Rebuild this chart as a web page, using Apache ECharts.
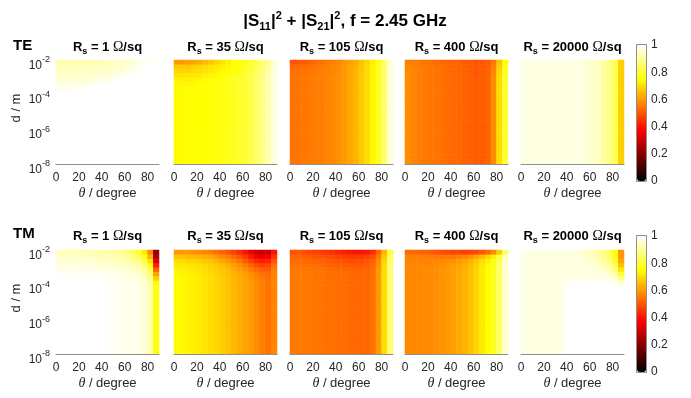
<!DOCTYPE html>
<html>
<head>
<meta charset="utf-8">
<script src="https://cdn.jsdelivr.net/npm/echarts@6/dist/echarts.min.js"></script>
<style>html,body{margin:0;padding:0;background:#fff;}#c{width:691px;height:398px;}</style>
</head>
<body>
<div id="c"></div>
<script>
// ---- data ----
// theta cell centres (deg), 5 degree cells covering 0..90
const theta = [2.5,7.5,12.5,17.5,22.5,27.5,32.5,37.5,42.5,47.5,52.5,57.5,62.5,67.5,72.5,77.5,82.5,87.5];
// log10(d / m) cell centres, 0.25 decade cells covering -8..-2
const logD = [-7.875,-7.625,-7.375,-7.125,-6.875,-6.625,-6.375,-6.125,-5.875,-5.625,-5.375,-5.125,-4.875,-4.625,-4.375,-4.125,-3.875,-3.625,-3.375,-3.125,-2.875,-2.625,-2.375,-2.125];
const rsLabels = ['1','35','105','400','20000'];
const xTicks = [0,20,40,60,80];
const yTicks = [-8,-6,-4,-2];
const cbTicks = [0,0.2,0.4,0.6,0.8,1];

// each panel: "top" rows read from d = 10^-2.125 downward in 0.25 decade steps, "base" = rows below
const TE_1_top = [
 [0.92,0.92,0.92,0.92,0.92,0.93,0.93,0.93,0.93,0.94,0.94,0.95,0.95,0.96,0.97,0.98,0.99,1.0],
 [0.93,0.93,0.93,0.93,0.93,0.93,0.93,0.94,0.94,0.94,0.95,0.95,0.96,0.97,0.98,0.99,1.0,1.0],
 [0.94,0.94,0.94,0.94,0.94,0.94,0.94,0.95,0.95,0.95,0.96,0.96,0.97,0.98,0.99,1.0,1.0,1.0],
 [0.95,0.95,0.95,0.95,0.95,0.95,0.95,0.96,0.96,0.96,0.97,0.98,0.99,1.0,1.0,1.0,1.0,1.0],
 [0.96,0.96,0.96,0.96,0.96,0.96,0.97,0.97,0.97,0.98,0.99,1.0,1.0,1.0,1.0,1.0,1.0,1.0],
 [0.97,0.97,0.97,0.97,0.97,0.98,0.98,0.99,0.99,1.0,1.0,1.0,1.0,1.0,1.0,1.0,1.0,1.0],
 [0.985,0.985,0.985,0.99,0.99,1.0,1.0,1.0,1.0,1.0,1.0,1.0,1.0,1.0,1.0,1.0,1.0,1.0]
];
const TE_1_base = [1,1,1,1,1,1,1,1,1,1,1,1,1,1,1,1,1,1];

const TE_35_top = [
 [0.60,0.60,0.61,0.62,0.63,0.65,0.67,0.69,0.71,0.73,0.75,0.76,0.78,0.80,0.83,0.86,0.90,0.96],
 [0.67,0.67,0.67,0.68,0.69,0.70,0.71,0.72,0.73,0.74,0.75,0.76,0.78,0.80,0.83,0.86,0.90,0.96],
 [0.69,0.69,0.69,0.70,0.70,0.71,0.72,0.73,0.74,0.75,0.76,0.77,0.79,0.81,0.84,0.87,0.91,0.97],
 [0.71,0.71,0.71,0.72,0.72,0.73,0.74,0.745,0.75,0.76,0.77,0.78,0.80,0.82,0.85,0.88,0.92,0.97],
 [0.73,0.73,0.73,0.73,0.74,0.74,0.75,0.755,0.76,0.77,0.78,0.79,0.80,0.82,0.85,0.88,0.92,0.97],
 [0.74,0.74,0.74,0.74,0.745,0.75,0.755,0.76,0.765,0.77,0.78,0.79,0.80,0.82,0.85,0.88,0.92,0.97]
];
const TE_35_base = [0.745,0.745,0.75,0.75,0.75,0.75,0.755,0.76,0.765,0.77,0.78,0.79,0.80,0.82,0.85,0.88,0.92,0.97];

const TE_105_top = [
 [0.50,0.50,0.51,0.52,0.53,0.54,0.55,0.56,0.57,0.59,0.61,0.63,0.66,0.69,0.73,0.77,0.85,0.95],
 [0.53,0.53,0.535,0.54,0.55,0.555,0.56,0.57,0.58,0.595,0.615,0.635,0.665,0.70,0.74,0.78,0.86,0.96],
 [0.54,0.54,0.545,0.55,0.555,0.56,0.565,0.57,0.58,0.60,0.62,0.64,0.67,0.70,0.74,0.78,0.86,0.96]
];
const TE_105_base = [0.545,0.545,0.55,0.555,0.56,0.56,0.57,0.575,0.585,0.60,0.62,0.64,0.67,0.70,0.74,0.78,0.86,0.96];

const TE_400_top = [
 [0.56,0.555,0.55,0.545,0.54,0.535,0.53,0.525,0.52,0.515,0.51,0.505,0.50,0.50,0.51,0.55,0.66,0.75],
 [0.57,0.565,0.555,0.55,0.545,0.54,0.535,0.53,0.525,0.52,0.515,0.51,0.50,0.505,0.515,0.56,0.68,0.78],
 [0.575,0.57,0.56,0.555,0.55,0.545,0.54,0.535,0.53,0.525,0.52,0.51,0.50,0.51,0.52,0.57,0.69,0.79],
 [0.58,0.57,0.56,0.555,0.55,0.545,0.54,0.535,0.53,0.525,0.52,0.515,0.505,0.51,0.52,0.58,0.70,0.80],
 [0.58,0.57,0.56,0.555,0.55,0.545,0.54,0.535,0.53,0.525,0.52,0.515,0.505,0.51,0.52,0.58,0.70,0.80]
];
const TE_400_base = [0.58,0.57,0.56,0.555,0.55,0.545,0.54,0.535,0.53,0.525,0.52,0.515,0.51,0.51,0.52,0.58,0.70,0.80];

const TE_20000_top = [];
const TE_20000_base = [0.97,0.97,0.97,0.97,0.97,0.97,0.97,0.97,0.97,0.97,0.97,0.96,0.95,0.94,0.91,0.88,0.83,0.68];

const TM_1_top = [
 [0.93,0.93,0.93,0.93,0.93,0.92,0.92,0.92,0.91,0.91,0.90,0.89,0.87,0.84,0.80,0.72,0.58,0.22],
 [0.95,0.95,0.95,0.95,0.94,0.94,0.94,0.94,0.93,0.93,0.92,0.91,0.89,0.87,0.84,0.77,0.64,0.26],
 [0.96,0.96,0.96,0.96,0.96,0.96,0.95,0.95,0.95,0.94,0.94,0.93,0.92,0.90,0.88,0.82,0.71,0.33],
 [0.97,0.97,0.97,0.97,0.97,0.97,0.97,0.96,0.96,0.96,0.95,0.95,0.94,0.93,0.91,0.87,0.77,0.42],
 [0.98,0.98,0.98,0.98,0.98,0.98,0.98,0.97,0.97,0.97,0.97,0.96,0.96,0.95,0.93,0.90,0.82,0.52],
 [0.99,0.99,0.99,0.99,0.99,0.99,0.99,0.99,0.98,0.98,0.98,0.97,0.97,0.96,0.95,0.92,0.86,0.61],
 [1.0,1.0,1.0,1.0,1.0,1.0,1.0,1.0,0.995,0.99,0.985,0.98,0.975,0.97,0.965,0.94,0.89,0.68],
 [1.0,1.0,1.0,1.0,1.0,1.0,1.0,1.0,1.0,0.995,0.985,0.985,0.98,0.98,0.97,0.955,0.91,0.74]
];
const TM_1_base = [1,1,1,1,1,1,1,1,1,0.995,0.985,0.985,0.98,0.98,0.975,0.96,0.92,0.76];

const TM_35_top = [
 [0.60,0.60,0.60,0.59,0.58,0.57,0.56,0.54,0.52,0.50,0.47,0.44,0.40,0.35,0.31,0.29,0.30,0.40],
 [0.66,0.66,0.65,0.65,0.64,0.63,0.62,0.60,0.58,0.56,0.53,0.50,0.46,0.41,0.36,0.34,0.36,0.45],
 [0.70,0.70,0.69,0.69,0.68,0.67,0.66,0.64,0.62,0.60,0.58,0.55,0.51,0.47,0.43,0.41,0.43,0.50],
 [0.72,0.72,0.71,0.71,0.70,0.69,0.68,0.67,0.65,0.63,0.61,0.59,0.56,0.52,0.49,0.47,0.48,0.54],
 [0.735,0.73,0.725,0.72,0.71,0.70,0.69,0.68,0.665,0.65,0.63,0.61,0.59,0.56,0.53,0.51,0.51,0.56],
 [0.74,0.735,0.73,0.725,0.715,0.705,0.695,0.685,0.67,0.655,0.64,0.625,0.605,0.585,0.56,0.54,0.53,0.57],
 [0.745,0.74,0.735,0.73,0.72,0.71,0.70,0.69,0.675,0.66,0.645,0.63,0.615,0.595,0.575,0.555,0.54,0.57]
];
const TM_35_base = [0.745,0.74,0.735,0.73,0.72,0.71,0.70,0.69,0.675,0.66,0.645,0.63,0.615,0.60,0.58,0.56,0.54,0.57];

const TM_105_top = [
 [0.50,0.50,0.49,0.48,0.47,0.46,0.45,0.44,0.43,0.42,0.41,0.40,0.40,0.41,0.44,0.52,0.64,0.80],
 [0.52,0.52,0.515,0.51,0.50,0.495,0.49,0.48,0.47,0.465,0.46,0.46,0.46,0.47,0.49,0.56,0.67,0.83],
 [0.535,0.535,0.53,0.53,0.52,0.515,0.51,0.505,0.50,0.495,0.49,0.49,0.49,0.50,0.52,0.58,0.69,0.85],
 [0.545,0.545,0.54,0.54,0.535,0.53,0.525,0.52,0.515,0.51,0.51,0.505,0.505,0.51,0.53,0.59,0.70,0.86],
 [0.55,0.55,0.545,0.545,0.54,0.54,0.535,0.535,0.53,0.525,0.52,0.515,0.515,0.52,0.535,0.60,0.70,0.86]
];
const TM_105_base = [0.555,0.555,0.55,0.55,0.545,0.545,0.54,0.54,0.535,0.535,0.53,0.53,0.525,0.525,0.54,0.60,0.70,0.86];

const TM_400_top = [
 [0.53,0.53,0.52,0.52,0.51,0.50,0.49,0.48,0.47,0.47,0.47,0.47,0.48,0.50,0.53,0.58,0.68,0.85],
 [0.56,0.56,0.56,0.56,0.555,0.55,0.55,0.55,0.55,0.56,0.57,0.59,0.62,0.65,0.69,0.73,0.81,0.92],
 [0.57,0.57,0.57,0.57,0.57,0.575,0.58,0.585,0.59,0.60,0.62,0.64,0.67,0.70,0.73,0.77,0.84,0.94],
 [0.575,0.575,0.575,0.575,0.575,0.58,0.585,0.595,0.605,0.615,0.63,0.65,0.68,0.715,0.745,0.78,0.85,0.95]
];
const TM_400_base = [0.575,0.575,0.575,0.58,0.58,0.585,0.59,0.60,0.61,0.625,0.64,0.66,0.69,0.72,0.75,0.78,0.85,0.95];

const TM_20000_top = [
 [0.97,0.97,0.97,0.97,0.97,0.97,0.97,0.97,0.97,0.97,0.96,0.95,0.93,0.91,0.88,0.84,0.76,0.60],
 [0.97,0.97,0.97,0.97,0.97,0.97,0.97,0.97,0.97,0.97,0.965,0.955,0.94,0.92,0.89,0.85,0.77,0.60],
 [0.97,0.97,0.97,0.97,0.97,0.97,0.97,0.97,0.97,0.97,0.97,0.96,0.95,0.93,0.91,0.87,0.79,0.62],
 [0.97,0.97,0.97,0.97,0.97,0.97,0.97,0.97,0.97,0.97,0.97,0.965,0.96,0.95,0.93,0.90,0.83,0.66],
 [0.97,0.97,0.97,0.97,0.97,0.97,0.97,0.97,0.97,0.97,0.97,0.97,0.97,0.96,0.95,0.93,0.87,0.72],
 [0.97,0.97,0.97,0.97,0.97,0.97,0.97,0.97,0.97,0.97,0.97,0.97,0.97,0.97,0.965,0.955,0.91,0.80],
 [0.97,0.97,0.97,0.97,0.97,0.97,0.97,0.975,0.975,0.975,0.975,0.975,0.975,0.975,0.975,0.97,0.955,0.88],
 [0.97,0.97,0.97,0.97,0.97,0.97,0.97,0.98,0.99,1.0,1.0,1.0,1.0,1.0,1.0,0.995,0.985,0.95]
];
const TM_20000_base = [0.97,0.97,0.97,0.97,0.97,0.97,0.97,0.98,1,1,1,1,1,1,1,1,1,1];

// ---- build ----
const panels = [
  [TE_1_top, TE_1_base],[TE_35_top, TE_35_base],[TE_105_top, TE_105_base],[TE_400_top, TE_400_base],[TE_20000_top, TE_20000_base],
  [TM_1_top, TM_1_base],[TM_35_top, TM_35_base],[TM_105_top, TM_105_base],[TM_400_top, TM_400_base],[TM_20000_top, TM_20000_base]
];
function cells(top, base) {
  const out = [];
  for (let yi = 0; yi < logD.length; yi++) {
    const c = logD[yi];
    let row = base;
    if (c > -4) { const k = Math.round((-2.125 - c) / 0.25); if (top[k]) row = top[k]; }
    for (let xi = 0; xi < theta.length; xi++) out.push([xi, yi, row[xi]]);
  }
  return out;
}

const FONT = "'Liberation Sans', Arial, Helvetica, sans-serif";
const SERIF = "'Liberation Serif', 'DejaVu Serif', serif";
const TXT = '#262626';
const panelLeft = [56, 174, 290, 405, 521];
const rowTop = [60, 250];
const PW = 103, PH = 104;

const grid = [], xAxis = [], yAxis = [], series = [], graphic = [];
for (let r = 0; r < 2; r++) {
  for (let c = 0; c < 5; c++) {
    const i = r * 5 + c;
    grid.push({left: panelLeft[c], top: rowTop[r], width: PW, height: PH, containLabel: false});
    xAxis.push({type: 'category', gridIndex: i, data: theta, show: false, position: 'bottom'});
    xAxis.push({type: 'value', gridIndex: i, min: 0, max: 90, interval: 20, position: 'bottom', z: 10,
      axisLine: {show: true, onZero: false, lineStyle: {color: '#8f8f8f', width: 1}},
      axisTick: {show: false}, splitLine: {show: false},
      axisLabel: {showMaxLabel: false, fontSize: 12, color: TXT, fontFamily: FONT, margin: 8,
        formatter: v => xTicks.indexOf(v) >= 0 ? String(v) : ''},
      name: '{i|θ} / degree', nameLocation: 'middle', nameGap: 22,
      nameTextStyle: {fontSize: 13, color: TXT, fontFamily: FONT,
        rich: {i: {fontStyle: 'italic', fontFamily: SERIF, fontSize: 14, color: TXT}}}
    });
    yAxis.push({type: 'category', gridIndex: i, data: logD, show: false, position: 'left'});
    yAxis.push({type: 'value', gridIndex: i, min: -8, max: -2, interval: 2, position: 'left',
      axisLine: {show: false, onZero: false}, axisTick: {show: false}, splitLine: {show: false},
      axisLabel: {show: c === 0, margin: 6, padding: [7, 0, 0, 0],
        formatter: v => yTicks.indexOf(v) >= 0 ? '{b|10}{s|' + v + '}' : '',
        rich: {
          b: {fontSize: 12, fontFamily: FONT, color: TXT, lineHeight: 16, verticalAlign: 'bottom'},
          s: {fontSize: 9, fontFamily: FONT, color: TXT, lineHeight: 8, verticalAlign: 'top'}
        }}
    });
    series.push({type: 'heatmap', xAxisIndex: 2 * i, yAxisIndex: 2 * i,
      data: cells(panels[i][0], panels[i][1]), progressive: 0, animation: false,
      emphasis: {disabled: true}, itemStyle: {borderWidth: 0}});
    graphic.push({type: 'text', x: panelLeft[c] + PW / 2, y: rowTop[r] - (r === 0 ? 13 : 14), z: 20,
      style: {text: '{m|R}{sb|s}{m| = ' + rsLabels[c] + ' }{o|Ω}{m|/sq}', align: 'center', verticalAlign: 'middle',
        rich: {
          m: {fontSize: 13, fontWeight: 'bold', fontFamily: FONT, fill: '#000', lineHeight: 18},
          sb: {fontSize: 9, fontWeight: 'bold', fontFamily: FONT, fill: '#000', lineHeight: 6, verticalAlign: 'bottom'},
          o: {fontSize: 14, fontFamily: SERIF, fill: '#000', lineHeight: 18}
        }}});
  }
  graphic.push({type: 'text', x: 16, y: rowTop[r] + PH / 2 - 4, rotation: Math.PI / 2, z: 20,
    style: {text: 'd / m', fontSize: 13, fontFamily: FONT, fill: TXT, align: 'center', verticalAlign: 'middle'}});
}
graphic.push({type: 'text', x: 13, y: 45.5, z: 20, style: {text: 'TE', fontSize: 15, fontWeight: 'bold', fontFamily: FONT, fill: '#000', align: 'left', verticalAlign: 'middle'}});
graphic.push({type: 'text', x: 13, y: 234, z: 20, style: {text: 'TM', fontSize: 15, fontWeight: 'bold', fontFamily: FONT, fill: '#000', align: 'left', verticalAlign: 'middle'}});
graphic.push({type: 'text', x: 345, y: 21, z: 20,
  style: {text: '{m||S}{sb|11}{m||}{sp|2}{m| + |S}{sb|21}{m||}{sp|2}{m|, f = 2.45 GHz}', align: 'center', verticalAlign: 'middle',
    rich: {
      m: {fontSize: 17, fontWeight: 'bold', fontFamily: FONT, fill: '#000', lineHeight: 22},
      sb: {fontSize: 11, fontWeight: 'bold', fontFamily: FONT, fill: '#000', lineHeight: 14, verticalAlign: 'bottom'},
      sp: {fontSize: 11, fontWeight: 'bold', fontFamily: FONT, fill: '#000', lineHeight: 14, verticalAlign: 'top'}
    }}});

// colour bars
const cbTop = [45, 236];
const hot = ['#000000','#550000','#aa0000','#ff0000','#ff5500','#ffaa00','#ffff00','#ffff80','#ffffff'];
const visualMap = [];
for (let r = 0; r < 2; r++) {
  const gi = 10 + r;
  grid.push({left: 637, top: cbTop[r], width: 9, height: 136});
  xAxis.push({type: 'value', gridIndex: gi, show: false, min: 0, max: 1});
  yAxis.push({type: 'value', gridIndex: gi, min: 0, max: 1, interval: 0.2, position: 'right',
    axisLine: {show: false}, axisTick: {show: false}, splitLine: {show: false},
    axisLabel: {fontSize: 12, color: TXT, fontFamily: FONT, margin: 5,
      formatter: v => { const t = cbTicks.find(k => Math.abs(k - v) < 1e-6); return t === undefined ? '' : String(t); }}});
  visualMap.push({type: 'continuous', min: 0, max: 1, orient: 'vertical', left: 637, top: cbTop[r],
    itemWidth: 9, itemHeight: 136, padding: 0, calculable: false, text: null, showLabel: false,
    seriesIndex: [r * 5, r * 5 + 1, r * 5 + 2, r * 5 + 3, r * 5 + 4], inRange: {color: hot}, hoverLink: false});
  graphic.push({type: 'rect', z: 100, shape: {x: 636.5, y: cbTop[r] - 0.5, width: 10, height: 137},
    style: {fill: null, stroke: '#8f8f8f', lineWidth: 1}});
}

const chart = echarts.init(document.getElementById('c'), null, {renderer: 'canvas'});
chart.setOption({animation: false, backgroundColor: '#fff', grid, xAxis, yAxis, series, visualMap, graphic});
</script>
</body>
</html>
